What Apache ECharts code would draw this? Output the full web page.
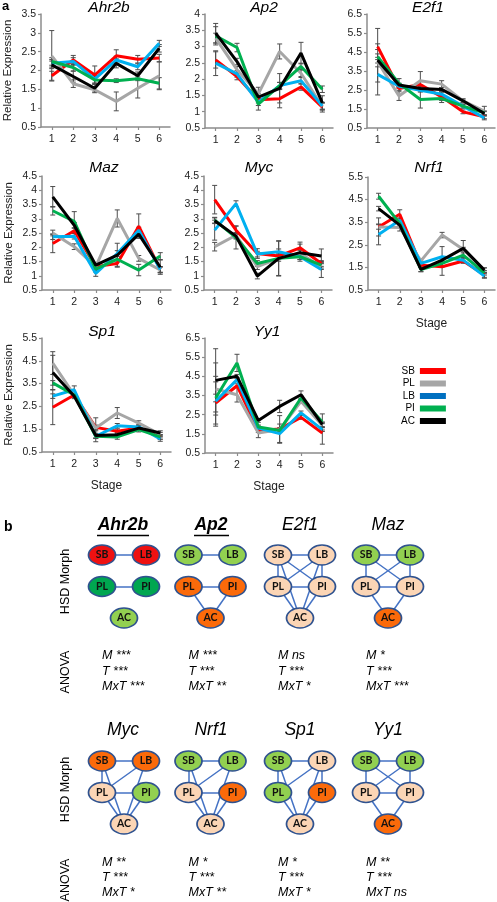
<!DOCTYPE html>
<html><head><meta charset="utf-8">
<script src="https://cdn.jsdelivr.net/npm/echarts@6/dist/echarts.min.js"></script>
<style>html,body{margin:0;padding:0;background:#fff}#c{width:497px;height:902px}</style>
</head><body><div id="c"></div>
<script>
// ---------- DATA (part a) ----------
const stages = ['1','2','3','4','5','6'];
const morphs = ['SB','PL','LB','PI','AC'];
const genes = ['Ahr2b','Ap2','E2f1','Maz','Myc','Nrf1','Sp1','Yy1'];
const yMin  = [0.5,0.5,0.5,0.5,0.5,0.5,0.5,0.5];
const yMax  = [3.5,4,6.5,4.5,4.5,5.5,5.5,6.5];
const yStep = [0.5,0.5,1,0.5,0.5,1,1,1];

// rows: SB, PL, LB, PI, AC ; columns: stage 1..6
const mean_Ahr2b = [
  [1.86,2.28,1.88,2.39,2.30,2.33],
  [2.39,1.65,1.49,1.18,1.53,1.86],
  [2.19,2.24,1.77,2.28,2.10,2.72],
  [2.24,2.08,1.75,1.73,1.78,1.66],
  [2.15,1.84,1.53,2.19,1.86,2.59]];
const err_Ahr2b = [
  [0.12,0.12,0.24,0.16,0.10,0.10],
  [0.67,0.10,0.08,0.25,0.26,0.37],
  [0.10,0.10,0.10,0.10,0.08,0.08],
  [0.10,0.10,0.10,0.05,0.05,0.15],
  [0.10,0.15,0.10,0.12,0.10,0.10]];
const mean_Ap2 = [
  [2.59,2.08,1.37,1.40,1.76,1.14],
  [3.26,2.29,1.55,2.85,2.18,1.16],
  [2.49,2.16,1.29,1.80,1.95,1.18],
  [3.33,2.97,1.23,1.80,2.39,1.69],
  [3.41,2.54,1.45,1.72,2.80,1.27]];
const err_Ap2 = [
  [0.25,0.10,0.10,0.28,0.10,0.15],
  [0.15,0.10,0.20,0.23,0.10,0.10],
  [0.38,0.10,0.10,0.10,0.10,0.10],
  [0.28,0.13,0.18,0.10,0.10,0.10],
  [0.30,0.10,0.10,0.45,0.33,0.22]];
const mean_E2f1 = [
  [4.78,2.58,2.79,2.14,1.35,1.09],
  [3.99,2.18,2.99,2.81,1.93,1.39],
  [3.32,2.70,2.49,2.28,1.65,1.03],
  [4.25,2.85,2.00,2.05,1.65,1.30],
  [4.07,2.76,2.58,2.53,1.93,1.26]];
const err_E2f1 = [
  [0.15,0.10,0.15,0.30,0.10,0.10],
  [1.75,0.23,0.48,0.18,0.10,0.25],
  [0.40,0.10,0.10,0.10,0.10,0.10],
  [0.15,0.25,0.45,0.10,0.10,0.10],
  [0.15,0.10,0.10,0.10,0.10,0.10]];
const mean_Maz = [
  [2.13,2.58,1.32,1.43,2.74,1.22],
  [2.50,2.02,1.32,3.01,1.61,1.20],
  [2.37,2.39,1.08,1.78,2.60,1.22],
  [3.28,2.91,1.23,1.58,1.20,1.69],
  [3.77,2.77,1.37,1.72,2.46,1.30]];
const err_Maz = [
  [0.32,0.10,0.10,0.10,0.43,0.10],
  [0.10,0.10,0.10,0.30,0.10,0.10],
  [0.10,0.10,0.10,0.10,0.10,0.10],
  [0.15,0.34,0.10,0.10,0.20,0.12],
  [0.36,0.10,0.10,0.42,0.10,0.25]];
const mean_Myc = [
  [3.67,2.60,1.78,1.69,1.98,1.43],
  [2.02,2.42,1.32,1.61,1.78,1.32],
  [2.60,3.53,1.76,1.84,1.67,1.22],
  [2.95,2.34,1.43,1.61,1.67,1.37],
  [2.93,2.39,0.99,1.61,1.81,1.69]];
const err_Myc = [
  [0.50,0.15,0.17,0.10,0.20,0.10],
  [0.15,0.10,0.10,0.62,0.10,0.10],
  [0.35,0.10,0.10,0.10,0.10,0.28],
  [0.10,0.40,0.10,0.10,0.10,0.10],
  [0.10,0.10,0.10,0.60,0.30,0.25]];
const mean_Nrf1 = [
  [3.29,3.85,1.60,1.53,1.78,1.16],
  [3.29,3.26,1.79,2.93,2.29,1.38],
  [2.96,3.59,1.68,1.97,1.82,1.12],
  [4.65,3.44,1.41,1.68,2.04,1.26],
  [4.10,3.37,1.41,1.82,2.34,1.38]];
const err_Nrf1 = [
  [0.40,0.20,0.10,0.38,0.10,0.10],
  [0.10,0.15,0.10,0.12,0.10,0.10],
  [0.46,0.10,0.10,0.45,0.10,0.10],
  [0.13,0.10,0.10,0.10,0.10,0.10],
  [0.10,0.10,0.10,0.10,0.35,0.10]];
const mean_Sp1 = [
  [2.46,3.00,1.58,1.41,1.55,1.16],
  [4.40,3.00,1.55,2.21,1.77,1.26],
  [2.95,3.23,1.19,1.65,1.60,1.07],
  [3.53,3.00,1.19,1.16,1.48,1.16],
  [3.99,2.94,1.22,1.26,1.55,1.33]];
const err_Sp1 = [
  [0.76,0.10,0.10,0.10,0.10,0.10],
  [0.50,0.10,0.45,0.24,0.10,0.10],
  [0.10,0.17,0.24,0.10,0.10,0.10],
  [0.10,0.10,0.10,0.10,0.10,0.10],
  [0.75,0.10,0.10,0.10,0.10,0.10]];
const mean_Yy1 = [
  [3.11,4.01,1.67,1.75,2.36,1.54],
  [3.84,3.54,1.54,1.72,3.20,1.93],
  [3.20,4.33,1.80,1.51,2.59,1.72],
  [3.37,5.20,1.86,1.68,3.37,2.12],
  [4.29,4.50,2.20,2.93,3.54,1.98]];
const err_Yy1 = [
  [1.10,0.10,0.10,0.70,0.10,0.58],
  [1.36,0.38,0.24,0.10,0.10,0.10],
  [1.30,0.10,0.10,0.50,0.10,0.10],
  [0.20,0.45,0.10,0.10,0.10,0.42],
  [1.65,0.10,0.10,0.32,0.20,0.10]];

const meansAll = [mean_Ahr2b,mean_Ap2,mean_E2f1,mean_Maz,mean_Myc,mean_Nrf1,mean_Sp1,mean_Yy1];
const errsAll  = [err_Ahr2b,err_Ap2,err_E2f1,err_Maz,err_Myc,err_Nrf1,err_Sp1,err_Yy1];

// ---------- DATA (part b) ----------
const hsdNodes = ['SB','LB','PL','PI','AC'];
// group codes per node (SB, LB, PL, PI, AC)
const grp_Ahr2b = ['R','R','D','D','L'];
const grp_Ap2   = ['L','L','O','O','O'];
const grp_E2f1  = ['P','P','P','P','P'];
const grp_Maz   = ['L','L','P','P','O'];
const grp_Myc   = ['O','O','P','L','P'];
const grp_Nrf1  = ['L','L','P','O','P'];
const grp_Sp1   = ['L','P','L','O','P'];
const grp_Yy1   = ['L','L','P','P','O'];
const edges_Ahr2b = [['SB','LB'],['PL','PI']];
const edges_Ap2   = [['SB','LB'],['PL','PI'],['PL','AC'],['PI','AC']];
const edges_E2f1  = [['SB','LB'],['SB','PL'],['LB','PI'],['PL','PI'],['SB','PI'],['LB','PL'],['SB','AC'],['LB','AC'],['PL','AC'],['PI','AC']];
const edges_Maz   = [['SB','LB'],['SB','PL'],['LB','PI'],['SB','PI'],['LB','PL'],['PL','PI'],['PL','AC'],['PI','AC']];
const edges_Myc   = [['SB','LB'],['SB','PL'],['SB','AC'],['LB','PL'],['LB','AC'],['PL','PI'],['PL','AC'],['PI','AC']];
const edges_Nrf1  = [['SB','LB'],['SB','PL'],['SB','AC'],['LB','PL'],['LB','AC'],['PL','PI'],['PL','AC'],['PI','AC']];
const edges_Sp1   = [['SB','LB'],['SB','PL'],['SB','AC'],['LB','PL'],['LB','PI'],['LB','AC'],['PL','AC'],['PI','AC']];
const edges_Yy1   = [['SB','LB'],['SB','PL'],['LB','PI'],['SB','PI'],['LB','PL'],['PL','PI'],['PL','AC'],['PI','AC']];
const anovaM   = ['***','***','ns','*','**','*','*','**'];
const anovaT   = ['***','***','***','***','***','***','***','***'];
const anovaMxT = ['***','**','*','***','*','**','*','ns'];
const grpAll   = [grp_Ahr2b,grp_Ap2,grp_E2f1,grp_Maz,grp_Myc,grp_Nrf1,grp_Sp1,grp_Yy1];
const edgesAll = [edges_Ahr2b,edges_Ap2,edges_E2f1,edges_Maz,edges_Myc,edges_Nrf1,edges_Sp1,edges_Yy1];

// ---------- STYLE / LAYOUT ----------
const FONT = 'Liberation Sans';
const lineColors = {SB:'#ff0000', PL:'#a6a6a6', LB:'#00b0f0', PI:'#00b050', AC:'#000000'};
const legendColors = {SB:'#ff0000', PL:'#a6a6a6', LB:'#0070c0', PI:'#00b050', AC:'#000000'};
const grpColors = {R:'#ee1111', D:'#00a650', L:'#92d050', O:'#fb6a0a', P:'#fbd5b5'};
const aLayout = [[41,14,129,113],[205,14,128,114],[367,14,128,114],
                 [42,176,129,114],[204,176,128,114],[368,177,127,113],
                 [42,338,129,114],[205,338,128,115]];
const aTitlePos = [[109,8],[264,8],[428,8],[104,168],[259,168],[429,168],[102,332],[267,332]];
const showYName = [true,false,false,true,false,false,true,false];
const showXName = [false,false,false,false,false,true,true,true];
const bColLeft = [102,188.5,278,366], bColCenter = [123,211,300,388];
const bRowTop = [555,761], bTitleY = [525,730], bAnovaY = [[656,671.5,687],[862.5,877.5,893]];
const nodeXY = {SB:[0,2], LB:[2,2], PL:[0,1], PI:[2,1], AC:[1,0]};
const ellipse = 'path://M0,50A50,50,0,1,1,100,50A50,50,0,1,1,0,50Z';

const grids = [], xAxes = [], yAxes = [], series = [], graphic = [];

genes.forEach((g, i) => {
  const [l,t,w,h] = aLayout[i];
  grids.push({left:l, top:t, width:w, height:h});
  xAxes.push({type:'category', gridIndex:i, data:stages, boundaryGap:true,
    axisLine:{show:true, lineStyle:{color:'#8c8c8c', width:1.5}},
    axisTick:{show:true, alignWithLabel:true, length:3, lineStyle:{color:'#8c8c8c', width:1.2}},
    axisLabel:{color:'#222', fontSize:10.5, fontFamily:FONT, margin:7},
    name: showXName[i] ? 'Stage' : '', nameLocation:'middle', nameGap:28,
    nameTextStyle:{fontSize:12, fontFamily:FONT, color:'#222'}});
  yAxes.push({type:'value', gridIndex:i, min:yMin[i], max:yMax[i], interval:yStep[i],
    axisLine:{show:true, lineStyle:{color:'#8c8c8c', width:1.5}},
    axisTick:{show:true, length:3, lineStyle:{color:'#8c8c8c', width:1.2}},
    splitLine:{show:false},
    axisLabel:{color:'#222', fontSize:10.5, fontFamily:FONT, margin:5},
    name: showYName[i] ? 'Relative Expression' : '', nameLocation:'middle', nameGap:27,
    nameTextStyle:{fontSize:11.5, fontFamily:FONT, color:'#222'}});
  // error bars
  const errData = [];
  morphs.forEach((m, k) => {
    meansAll[i][k].forEach((v, s) => {
      const e = errsAll[i][k][s];
      errData.push([s, v - e, v + e]);
    });
  });
  series.push({type:'custom', name:'err'+i, xAxisIndex:i, yAxisIndex:i, silent:true, z:1,
    data: errData, encode:{x:0, y:[1,2]},
    renderItem: (params, api) => {
      const p1 = api.coord([api.value(0), api.value(1)]);
      const p2 = api.coord([api.value(0), api.value(2)]);
      const cw = 2.5, st = {stroke:'#4d4d4d', lineWidth:1};
      return {type:'group', children:[
        {type:'line', shape:{x1:p1[0], y1:p1[1], x2:p2[0], y2:p2[1]}, style:st},
        {type:'line', shape:{x1:p1[0]-cw, y1:p1[1], x2:p1[0]+cw, y2:p1[1]}, style:st},
        {type:'line', shape:{x1:p2[0]-cw, y1:p2[1], x2:p2[0]+cw, y2:p2[1]}, style:st}]};
    }});
  morphs.forEach((m, k) => {
    series.push({type:'line', name:m, xAxisIndex:i, yAxisIndex:i, data:meansAll[i][k],
      symbol:'none', showSymbol:false, silent:true, z:2+k*0.01,
      color: lineColors[m], lineStyle:{width:3, color:lineColors[m]}});
  });
  graphic.push({type:'text', x:aTitlePos[i][0], y:aTitlePos[i][1], silent:true,
    style:{text:g, fontSize:15.5, fontStyle:'italic', fontFamily:FONT, fill:'#000', align:'center', verticalAlign:'middle'}});
});

// part b
genes.forEach((g, j) => {
  const r = Math.floor(j/4), c = j%4, gi = 8 + j;
  grids.push({left:bColLeft[c], top:bRowTop[r], width:44, height:63});
  xAxes.push({type:'value', gridIndex:gi, min:0, max:2, show:false});
  yAxes.push({type:'value', gridIndex:gi, min:0, max:2, show:false});
  series.push({type:'graph', coordinateSystem:'cartesian2d', xAxisIndex:gi, yAxisIndex:gi,
    silent:true, symbol:ellipse, symbolSize:[27,20], z:5,
    data: hsdNodes.map((n, q) => ({name:n, value:nodeXY[n], itemStyle:{color:grpColors[grpAll[j][q]]}})),
    links: edgesAll[j].map(e => ({source:e[0], target:e[1]})),
    label:{show:true, position:'inside', formatter:'{b}', fontFamily:'Lato', fontWeight:'bold', fontSize:10.5, color:'#111'},
    itemStyle:{borderColor:'#2f528f', borderWidth:1.5},
    lineStyle:{color:'#4472c4', width:1.5, opacity:1, curveness:0}});
  const bold = j < 2;
  graphic.push({type:'text', x:bColCenter[c], y:bTitleY[r], silent:true,
    style:{text:g, fontSize:17.5, fontStyle:'italic', fontWeight: bold ? 'bold' : 'normal', fontFamily:FONT,
      fill:'#000', align:'center', verticalAlign:'middle'}});
  const lines = ['M ' + anovaM[j], 'T ' + anovaT[j], 'MxT ' + anovaMxT[j]];
  lines.forEach((txt, q) => {
    graphic.push({type:'text', x:bColLeft[c], y:bAnovaY[r][q], silent:true,
      style:{text:txt, fontSize:12.5, fontStyle:'italic', fontFamily:FONT, fill:'#000', align:'left', verticalAlign:'middle'}});
  });
});
// underlines for bold titles
[[97,149],[194,229]].forEach(u => graphic.push({type:'line', silent:true,
  shape:{x1:u[0], y1:535.5, x2:u[1], y2:535.5}, style:{stroke:'#000', lineWidth:1.5}}));
// panel letters & side labels
graphic.push({type:'text', x:2, y:6, silent:true, style:{text:'a', fontSize:13, fontWeight:'bold', fontFamily:FONT, fill:'#000', verticalAlign:'middle'}});
graphic.push({type:'text', x:4, y:527, silent:true, style:{text:'b', fontSize:14, fontWeight:'bold', fontFamily:FONT, fill:'#000', verticalAlign:'middle'}});
[[581.5,'HSD Morph'],[789.5,'HSD Morph'],[672,'ANOVA'],[880,'ANOVA']].forEach(s => graphic.push({type:'text',
  x:66, y:s[0], rotation:Math.PI/2, silent:true,
  style:{text:s[1], fontSize:12.5, fontFamily:FONT, fill:'#000', align:'center', verticalAlign:'middle'}}));

const option = {
  animation:false,
  textStyle:{fontFamily:FONT},
  grid: grids, xAxis: xAxes, yAxis: yAxes, series: series, graphic: graphic,
  legend:{orient:'vertical', align:'right', left:401, top:365, padding:0,
    itemWidth:26, itemHeight:6, itemGap:0.5, icon:'rect', selectedMode:false,
    textStyle:{fontSize:10, fontFamily:FONT, color:'#000', lineHeight:12},
    data: morphs.map(m => ({name:m, itemStyle:{color:legendColors[m]}}))}
};
const chart = echarts.init(document.getElementById('c'), null, {renderer:'canvas'});
chart.setOption(option);
</script></body></html>
